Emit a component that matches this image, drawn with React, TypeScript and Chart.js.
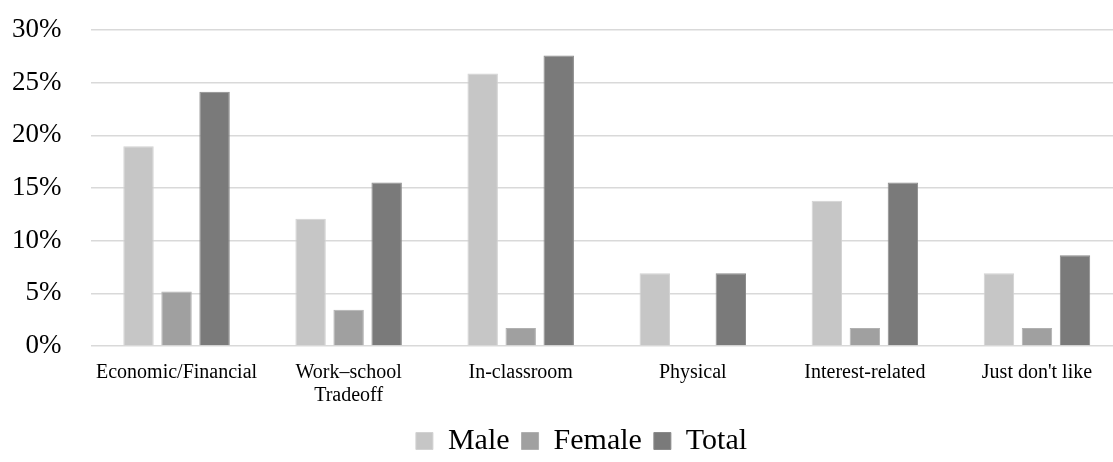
import React, { useEffect, useRef } from "react";
import { Chart, registerables } from "chart.js";

Chart.register(...registerables);

const categories: (string | string[])[] = [
  "Economic/Financial",
  ["Work–school", "Tradeoff"],
  "In-classroom",
  "Physical",
  "Interest-related",
  "Just don't like",
];
const maleValues = [18.97, 12.07, 25.86, 6.9, 13.79, 6.9];
const femaleValues = [5.17, 3.45, 1.72, 0, 1.72, 1.72];
const totalValues = [24.14, 15.52, 27.59, 6.9, 15.52, 8.62];
const yTicks = [0, 5, 10, 15, 20, 25, 30];

const FONT = "'Liberation Serif', 'Times New Roman', serif";

const legendShift = {
  id: "legendShift",
  afterLayout(chart: any) {
    const l = chart.legend;
    if (!l) return;
    l.left += 20;
    l.right += 20;
    l.top += 4;
    l.bottom += 4;
  },
};

export default function App() {
  const ref = useRef<HTMLCanvasElement | null>(null);

  useEffect(() => {
    document.body.style.margin = "0";
    document.body.style.overflow = "hidden";
    if (!ref.current) return;
    const chart = new Chart(ref.current, {
      type: "bar",
      data: {
        labels: categories,
        datasets: [
          { label: "Male", data: maleValues, backgroundColor: "#c6c6c6", borderColor: "#d2d2d2", borderWidth: 1 },
          { label: "Female", data: femaleValues, backgroundColor: "#a0a0a0", borderColor: "#b0b0b0", borderWidth: 1 },
          { label: "Total", data: totalValues, backgroundColor: "#7a7a7a", borderColor: "#8a8a8a", borderWidth: 1 },
        ],
      },
      plugins: [legendShift],
      options: {
        animation: false,
        responsive: false,
        maintainAspectRatio: false,
        layout: { padding: { top: 30, right: 0, left: 0, bottom: 0 } },
        datasets: { bar: { categoryPercentage: 0.663, barPercentage: 0.8 } },
        scales: {
          x: {
            grid: { display: false, drawTicks: false },
            border: { display: false },
            ticks: {
              color: "#000",
              font: { family: FONT, size: 20, lineHeight: 1.15 },
              maxRotation: 0,
              autoSkip: false,
              padding: 15,
            },
            afterFit: (s: any) => {
              s.height = 64;
            },
          },
          y: {
            min: 0,
            max: 30,
            afterBuildTicks: (s: any) => {
              s.ticks = yTicks.map((v) => ({ value: v }));
            },
            grid: { color: "#d9d9d9", lineWidth: 1.5, drawTicks: true, tickLength: 29, tickColor: "rgba(0,0,0,0)" },
            border: { display: false },
            ticks: {
              color: "#000",
              font: { family: FONT, size: 27 },
              padding: 0,
              callback: (v: any) => v + "%",
            },
            afterFit: (s: any) => {
              s.width = 90.5;
            },
          },
        },
        plugins: {
          legend: {
            position: "bottom",
            labels: {
              color: "#000",
              font: { family: FONT, size: 30 },
              boxWidth: 17,
              boxHeight: 17,
              padding: 12,
            },
          },
          tooltip: { enabled: false },
        },
      },
    });
    return () => chart.destroy();
  }, []);

  return (
    <div style={{ width: 1113, height: 462, overflow: "hidden" }}>
      <canvas ref={ref} width={1123} height={462} style={{ display: "block" }} />
    </div>
  );
}
